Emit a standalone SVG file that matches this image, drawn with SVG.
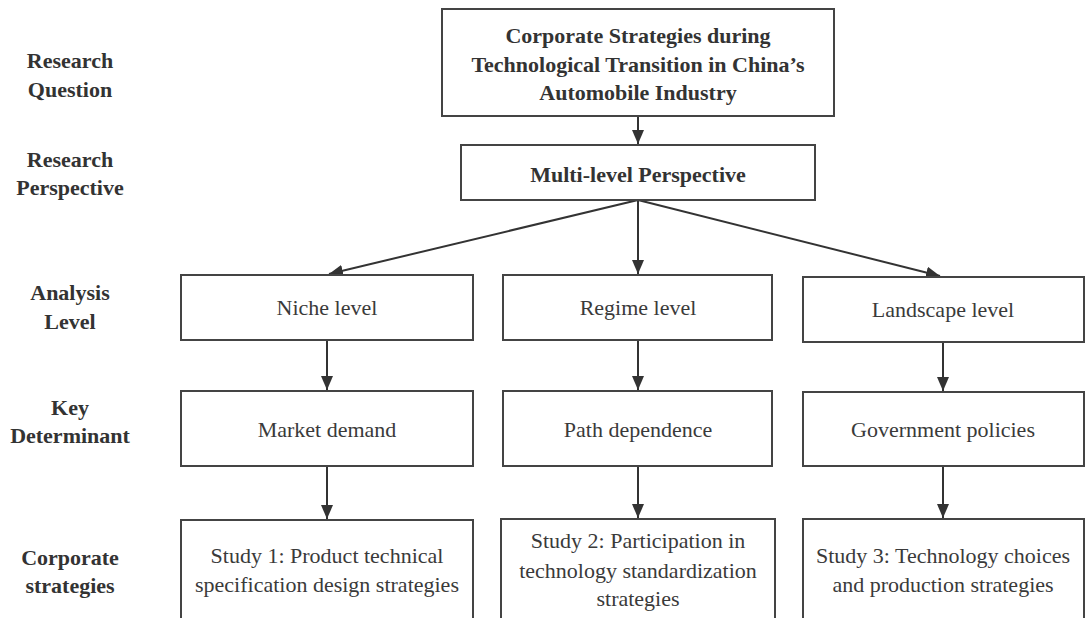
<svg xmlns="http://www.w3.org/2000/svg" width="1085" height="618" viewBox="0 0 1085 618">
<defs>
<marker id="arr" viewBox="0 0 14 12" refX="14" refY="6" markerWidth="14" markerHeight="12" markerUnits="userSpaceOnUse" orient="auto">
<path d="M0,0 L14,6 L0,12 Z" fill="#333"/>
</marker>
<style>
.box{fill:#fff;stroke:#444;stroke-width:2}
.lbl{font-family:"Liberation Serif","Times New Roman",serif;font-size:22px;font-weight:bold;fill:#333;text-anchor:middle}
.bt{font-family:"Liberation Serif","Times New Roman",serif;font-size:22px;font-weight:bold;fill:#333;text-anchor:middle}
.t{font-family:"Liberation Serif","Times New Roman",serif;font-size:22px;fill:#3a3a3a;text-anchor:middle}
.c{stroke:#333;stroke-width:2;fill:none;marker-end:url(#arr)}
</style>
</defs>
<rect width="1085" height="618" fill="#fff"/>
<g id="row-labels">
<text class="lbl" x="70" y="68">Research</text>
<text class="lbl" x="70" y="97">Question</text>
<text class="lbl" x="70" y="167">Research</text>
<text class="lbl" x="70" y="195">Perspective</text>
<text class="lbl" x="70" y="300">Analysis</text>
<text class="lbl" x="70" y="329">Level</text>
<text class="lbl" x="70" y="415">Key</text>
<text class="lbl" x="70" y="443">Determinant</text>
<text class="lbl" x="70" y="565">Corporate</text>
<text class="lbl" x="70" y="593">strategies</text>
</g>
<g id="connectors">
<line class="c" x1="638" y1="116" x2="638" y2="144"/>
<line class="c" x1="638" y1="200" x2="329" y2="274"/>
<line class="c" x1="638" y1="200" x2="638" y2="274"/>
<line class="c" x1="638" y1="200" x2="940" y2="276"/>
<line class="c" x1="327" y1="340" x2="327" y2="390"/>
<line class="c" x1="638" y1="340" x2="638" y2="390"/>
<line class="c" x1="943" y1="342" x2="943" y2="391"/>
<line class="c" x1="327" y1="466" x2="327" y2="519"/>
<line class="c" x1="638" y1="466" x2="638" y2="518"/>
<line class="c" x1="943" y1="466" x2="943" y2="518"/>
</g>
<g id="n-question">
<rect class="box" x="442" y="9" width="392" height="107"/>
<text class="bt" x="638" y="43">Corporate Strategies during</text>
<text class="bt" x="638" y="72">Technological Transition in China’s</text>
<text class="bt" x="638" y="100">Automobile Industry</text>
</g>
<g id="n-mlp">
<rect class="box" x="461" y="145" width="354" height="55"/>
<text class="bt" x="638" y="182">Multi-level Perspective</text>
</g>
<g id="n-niche">
<rect class="box" x="181" y="275" width="292" height="65"/>
<text class="t" x="327" y="315">Niche level</text>
</g>
<g id="n-regime">
<rect class="box" x="503" y="275" width="269" height="65"/>
<text class="t" x="638" y="315">Regime level</text>
</g>
<g id="n-landscape">
<rect class="box" x="803" y="277" width="281" height="65"/>
<text class="t" x="943" y="317">Landscape level</text>
</g>
<g id="n-market">
<rect class="box" x="181" y="391" width="292" height="75"/>
<text class="t" x="327" y="437">Market demand</text>
</g>
<g id="n-path">
<rect class="box" x="503" y="391" width="269" height="75"/>
<text class="t" x="638" y="437">Path dependence</text>
</g>
<g id="n-gov">
<rect class="box" x="803" y="392" width="281" height="74"/>
<text class="t" x="943" y="437">Government policies</text>
</g>
<g id="n-study1">
<rect class="box" x="181" y="520" width="292" height="115"/>
<text class="t" x="327" y="563">Study 1: Product technical</text>
<text class="t" x="327" y="592">specification design strategies</text>
</g>
<g id="n-study2">
<rect class="box" x="501" y="519" width="274" height="115"/>
<text class="t" x="638" y="548">Study 2: Participation in</text>
<text class="t" x="638" y="578">technology standardization</text>
<text class="t" x="638" y="606">strategies</text>
</g>
<g id="n-study3">
<rect class="box" x="803" y="519" width="281" height="115"/>
<text class="t" x="943" y="563">Study 3: Technology choices</text>
<text class="t" x="943" y="592">and production strategies</text>
</g>
</svg>
